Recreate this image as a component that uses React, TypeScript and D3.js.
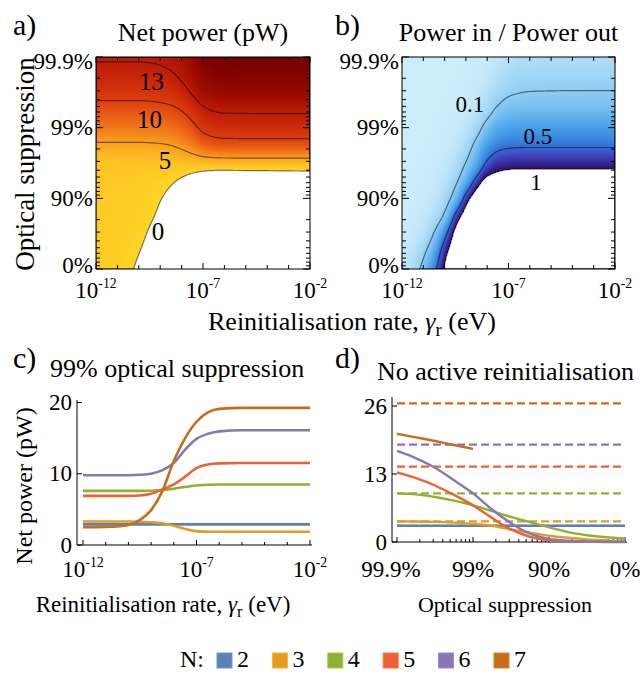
import React, { useMemo } from 'react';
import * as d3 from 'd3';

const FONT = '"Liberation Serif", "Times New Roman", Times, serif';

// ---------- shared grid for panels a & b ----------
// x: log10 reinitialisation rate (eV); y: log10(1 - optical suppression)
const gammaLog = [-12, -11, -10, -9.5, -9, -8.5, -8, -7.5, -7, -6.5, -6, -4, -2];
const leakLog = [-3, -2.75, -2.5, -2.25, -2, -1.75, -1.5, -1.25, -1, -0.75, -0.5, -0.25, 0];

// Net power (pW), N = 5, rows follow leakLog, columns follow gammaLog
const netPowerGrid = [
  [13.3, 13.3, 13.3, 13.35, 13.5, 13.8, 14.6, 15.9, 17.5, 18.2, 18.45, 18.5, 18.5],
  [12.2, 12.2, 12.2, 12.25, 12.4, 12.75, 13.5, 14.85, 16.45, 17.2, 17.45, 17.5, 17.5],
  [10.8, 10.8, 10.8, 10.85, 11.0, 11.3, 12.05, 13.3, 14.8, 15.5, 15.75, 15.8, 15.8],
  [9.0, 9.0, 9.0, 9.05, 9.2, 9.45, 10.1, 11.2, 12.5, 13.15, 13.35, 13.4, 13.4],
  [7.0, 7.0, 7.0, 7.05, 7.2, 7.45, 8.1, 9.25, 10.6, 11.25, 11.45, 11.5, 11.5],
  [4.6, 4.6, 4.6, 4.65, 4.75, 5.0, 5.65, 6.7, 7.95, 8.55, 8.75, 8.8, 8.8],
  [2.4, 2.4, 2.4, 2.4, 2.45, 2.5, 2.6, 2.8, 3.05, 3.15, 3.2, 3.2, 3.2],
  [1.8, 1.6, 1.35, 1.1, 0.75, 0.3, -0.35, -1.5, -2.8, -3.8, -4.3, -4.5, -4.5],
  [1.6, 1.3, 0.95, 0.55, 0.08, -0.5, -1.4, -2.8, -4.5, -6.5, -8.5, -12, -16],
  [1.5, 1.15, 0.65, 0.22, -0.28, -0.9, -1.9, -3.3, -5, -7, -9, -13, -18],
  [1.4, 1.0, 0.35, -0.14, -0.65, -1.3, -2.3, -3.8, -5.5, -7.5, -9.5, -14, -20],
  [1.3, 0.85, 0.05, -0.45, -1.0, -1.7, -2.7, -4.2, -5.8, -8, -10, -15, -20],
  [1.2, 0.7, -0.25, -0.75, -1.3, -2.0, -3.0, -4.5, -6, -8, -10, -15, -20],
];

// log10(Power in / Power out), N = 5
const ratioLogGrid = [
  [-6.3, -5.3, -4.3, -3.8, -3.3, -2.8, -2.3, -1.85, -1.6, -1.45, -1.42, -1.4, -1.4],
  [-5.9, -4.9, -3.9, -3.4, -2.9, -2.4, -1.9, -1.5, -1.3, -1.22, -1.2, -1.19, -1.19],
  [-5.5, -4.5, -3.5, -3.0, -2.5, -2.0, -1.55, -1.22, -1.06, -1.01, -0.99, -0.98, -0.979],
  [-5.1, -4.1, -3.1, -2.6, -2.1, -1.6, -1.2, -0.92, -0.81, -0.78, -0.77, -0.77, -0.77],
  [-4.7, -3.7, -2.7, -2.2, -1.7, -1.22, -0.82, -0.62, -0.55, -0.53, -0.523, -0.523, -0.523],
  [-4.3, -3.3, -2.3, -1.8, -1.3, -0.85, -0.52, -0.38, -0.34, -0.33, -0.328, -0.328, -0.328],
  [-4.0, -3.0, -2.0, -1.45, -0.98, -0.6, -0.26, -0.13, -0.095, -0.086, -0.086, -0.086, -0.086],
  [-3.6, -2.6, -1.6, -1.12, -0.64, -0.2, 0.09, 0.16, 0.19, 0.2, 0.2, 0.2, 0.2],
  [-3.3, -2.3, -1.3, -0.75, -0.17, 0.21, 0.5, 0.7, 0.8, 0.85, 0.85, 0.85, 0.85],
  [-2.93, -1.93, -0.9, -0.24, 0.18, 0.6, 0.9, 1.1, 1.2, 1.25, 1.25, 1.25, 1.25],
  [-2.55, -1.55, -0.41, 0.08, 0.5, 0.9, 1.2, 1.4, 1.5, 1.55, 1.55, 1.55, 1.55],
  [-2.13, -1.13, -0.13, 0.26, 0.7, 1.1, 1.4, 1.6, 1.7, 1.75, 1.75, 1.75, 1.75],
  [-1.83, -0.84, 0.04, 0.5, 1.0, 1.4, 1.7, 1.9, 2.0, 2.05, 2.05, 2.05, 2.05],
];

const netPowerLevels = [0, 5, 10, 13];
const ratioLevels = [0.1, 0.5, 1];

// ---------- panel c: 99% optical suppression ----------
const cGammaLog = [-12, -11, -10.5, -10, -9.5, -9, -8.5, -8, -7.5, -7, -6.5, -6, -5, -4, -3, -2];
const cN2 = [2.9, 2.9, 2.9, 2.9, 2.9, 2.9, 2.9, 2.9, 2.9, 2.9, 2.9, 2.9, 2.9, 2.9, 2.9, 2.9];
const cN3 = [3.3, 3.3, 3.3, 3.3, 3.27, 3.2, 3.05, 2.7, 2.25, 1.95, 1.87, 1.85, 1.85, 1.85, 1.85, 1.85];
const cN4 = [7.6, 7.6, 7.6, 7.6, 7.6, 7.62, 7.7, 7.9, 8.15, 8.35, 8.45, 8.5, 8.5, 8.5, 8.5, 8.5];
const cN5 = [6.9, 6.9, 6.9, 6.9, 6.95, 7.2, 7.8, 8.5, 9.6, 10.8, 11.3, 11.45, 11.5, 11.5, 11.5, 11.5];
const cN6 = [9.8, 9.8, 9.8, 9.8, 9.85, 10.0, 10.5, 11.5, 13.4, 14.9, 15.6, 15.95, 16.1, 16.1, 16.1, 16.1];
const cN7 = [2.5, 2.55, 2.6, 2.8, 3.5, 4.9, 7.6, 11.8, 15.0, 17.3, 18.6, 19.1, 19.25, 19.25, 19.25, 19.25];

// ---------- panel d: no active reinitialisation ----------
const dLeakLog = [-3, -2.75, -2.5, -2.25, -2, -1.75, -1.5, -1.25, -1, -0.75, -0.5, -0.25, 0];
const dN2 = [3.1, 3.1, 3.1, 3.1, 3.1, 3.1, 3.1, 3.1, 3.1, 3.1, 3.1, 3.1, 3.1];
const dN3 = [3.95, 3.93, 3.85, 3.7, 3.5, 3.1, 2.4, 1.8, 1.2, 0.8, 0.5, 0.3, 0.2];
const dN4 = [9.3, 9.1, 8.6, 7.9, 7.0, 5.9, 4.8, 3.8, 2.8, 1.9, 1.3, 0.9, 0.65];
const dN5 = [13.3, 12.2, 10.8, 9.0, 7.0, 4.6, 2.4, 1.0, 0.35, 0.1, 0.03, 0.01, 0];
const dN6 = [17.4, 16.0, 14.2, 11.8, 9.3, 6.2, 3.6, 1.6, 0.6, 0.25, 0.1, 0.06, 0.05];
const dN7 = [20.7, 20.0, 19.3, 18.55, 17.8];
const dLimit = [3.1, 3.95, 9.3, 14.4, 18.6, 26.5];

const Ns = [2, 3, 4, 5, 6, 7];
const seriesColors = ['#5E81B5', '#E19C24', '#8FB032', '#EB6235', '#8778B3', '#C56E1A'];
const suppressionTicks = [
  { v: -3, label: '99.9%' },
  { v: -2, label: '99%' },
  { v: -1, label: '90%' },
  { v: 0, label: '0%' },
];
const gammaMajor = [-12, -7, -2];

// ---------- helpers ----------
function pchip(xs: number[], ys: number[]) {
  const n = xs.length;
  const h: number[] = [];
  const d: number[] = [];
  for (let i = 0; i < n - 1; i++) {
    h.push(xs[i + 1] - xs[i]);
    d.push((ys[i + 1] - ys[i]) / h[i]);
  }
  const m = new Array(n).fill(0);
  m[0] = d[0];
  m[n - 1] = d[n - 2];
  for (let i = 1; i < n - 1; i++) {
    if (d[i - 1] * d[i] <= 0) m[i] = 0;
    else {
      const w1 = 2 * h[i] + h[i - 1];
      const w2 = h[i] + 2 * h[i - 1];
      m[i] = (w1 + w2) / (w1 / d[i - 1] + w2 / d[i]);
    }
  }
  return (x: number) => {
    let i = 0;
    if (x <= xs[0]) i = 0;
    else if (x >= xs[n - 1]) i = n - 2;
    else while (x > xs[i + 1]) i++;
    const t = Math.max(0, Math.min(1, (x - xs[i]) / h[i]));
    const t2 = t * t, t3 = t2 * t;
    return (2 * t3 - 3 * t2 + 1) * ys[i] + (t3 - 2 * t2 + t) * h[i] * m[i] +
      (-2 * t3 + 3 * t2) * ys[i + 1] + (t3 - t2) * h[i] * m[i + 1];
  };
}

function sampleField(grid: number[][], nx: number, ny: number) {
  const rowInterps = grid.map((row) => pchip(gammaLog, row));
  const values: number[] = new Array(nx * ny);
  for (let i = 0; i < nx; i++) {
    const xl = -12 + ((i + 0.5) / nx) * 10;
    const col = rowInterps.map((f) => f(xl));
    const fy = pchip(leakLog, col);
    for (let j = 0; j < ny; j++) {
      const yl = -3 + ((j + 0.5) / ny) * 3;
      values[j * nx + i] = fy(yl);
    }
  }
  return values;
}

function fieldImage(values: number[], nx: number, ny: number, colorOf: (v: number) => string | null) {
  if (typeof document === 'undefined') return '';
  const canvas = document.createElement('canvas');
  canvas.width = nx;
  canvas.height = ny;
  const ctx = canvas.getContext('2d');
  if (!ctx) return '';
  const img = ctx.createImageData(nx, ny);
  for (let k = 0; k < nx * ny; k++) {
    const c = colorOf(values[k]);
    let r = 255, g = 255, b = 255;
    if (c) {
      const rgb = d3.rgb(c);
      r = rgb.r; g = rgb.g; b = rgb.b;
    }
    img.data[k * 4] = r;
    img.data[k * 4 + 1] = g;
    img.data[k * 4 + 2] = b;
    img.data[k * 4 + 3] = 255;
  }
  ctx.putImageData(img, 0, 0);
  return canvas.toDataURL();
}

function contourPaths(values: number[], nx: number, ny: number, thresholds: number[],
  xs: d3.ScaleLinear<number, number>, ys: d3.ScaleLinear<number, number>) {
  const gen = d3.contours().size([nx, ny]).thresholds(thresholds);
  const cs = gen(values);
  const proj = d3.geoTransform({
    point(x: number, y: number) {
      // @ts-ignore
      this.stream.point(xs(-12 + (x / nx) * 10), ys(-3 + (y / ny) * 3));
    },
  });
  const path = d3.geoPath(proj as any);
  return cs.map((c) => ({ value: c.value, d: path(c as any) || '' }));
}

const sunset = d3.scaleLinear<string>()
  .domain([0, 2.5, 5, 7.5, 10, 12.5, 15, 17.5, 19])
  .range(['#FFD526', '#FDC223', '#F8A01E', '#EF6F18', '#DD3E0F', '#C22107', '#A10C01', '#820300', '#700000'])
  .clamp(true);

const blues = d3.scaleLinear<string>()
  .domain([0, 0.04, 0.1, 0.2, 0.35, 0.5, 0.65, 0.8, 0.95, 1])
  .range(['#CCEBFB', '#AEDCF7', '#8ECCF3', '#62B3EE', '#3E93E3', '#3569D3', '#3E42B9', '#3A2898', '#2E1670', '#271060'])
  .clamp(true);

function logMinor(d0: number, d1: number) {
  const out: number[] = [];
  for (let d = d0; d < d1; d++) for (let k = 2; k <= 9; k++) out.push(d + Math.log10(k));
  return out;
}

function Pow10({ x, y, e, size = 23 }: { x: number; y: number; e: number; size?: number }) {
  return (
    <text x={x} y={y} textAnchor="middle" fontSize={size}>
      10<tspan fontSize={size * 0.6} dy={-size * 0.42}>{String(e)}</tspan>
    </text>
  );
}

function GammaLabel({ x, y, size }: { x: number; y: number; size: number }) {
  return (
    <text x={x} y={y} textAnchor="middle" fontSize={size}>
      Reinitialisation rate, <tspan fontStyle="italic">γ</tspan>
      <tspan fontSize={size * 0.72} dy={size * 0.22}>r</tspan>
      <tspan dy={-size * 0.22}> (eV)</tspan>
    </text>
  );
}

// nudge for end tick labels on the suppression axes
const endNudge = (v: number) => (v === -3 ? 4 : v === 0 ? -4 : 0);

function FramePanel({ xs, ys, id, img, contours, lineColor, labels, labelSize }: any) {
  const [x0, x1] = xs.range();
  const [y0, y1] = ys.range();
  const w = x1 - x0, h = y1 - y0;
  const xMinor = d3.range(-11, -2).filter((v) => !gammaMajor.includes(v));
  const yMajor = suppressionTicks.map((t) => t.v);
  const yMinor = logMinor(-3, 0);
  return (
    <g>
      <defs>
        <clipPath id={id}>
          <rect x={x0} y={y0} width={w} height={h} />
        </clipPath>
      </defs>
      <rect x={x0} y={y0} width={w} height={h} fill="#fff" />
      {img && <image href={img} x={x0} y={y0} width={w} height={h} preserveAspectRatio="none" />}
      <g clipPath={`url(#${id})`}>
        {contours.map((c: any, i: number) => (
          <path key={i} d={c.d} fill="none" stroke={lineColor} strokeOpacity={0.5} strokeWidth={1.2} />
        ))}
      </g>
      {labels.map((l: any, i: number) => (
        <text key={i} x={xs(l.x)} y={ys(l.y)} fontSize={labelSize} textAnchor="middle" dominantBaseline="central">
          {l.text}
        </text>
      ))}
      <rect x={x0} y={y0} width={w} height={h} fill="none" stroke="#000" strokeWidth={1} />
      {gammaMajor.map((v) => (
        <g key={'xm' + v}>
          <line x1={xs(v)} x2={xs(v)} y1={y1} y2={y1 - 6} stroke="#000" />
          <line x1={xs(v)} x2={xs(v)} y1={y0} y2={y0 + 6} stroke="#000" />
        </g>
      ))}
      {xMinor.map((v) => (
        <g key={'xn' + v}>
          <line x1={xs(v)} x2={xs(v)} y1={y1} y2={y1 - 4} stroke="#000" />
          <line x1={xs(v)} x2={xs(v)} y1={y0} y2={y0 + 4} stroke="#000" />
        </g>
      ))}
      {yMajor.map((v) => (
        <g key={'ym' + v}>
          <line x1={x0} x2={x0 + 7} y1={ys(v)} y2={ys(v)} stroke="#000" />
          <line x1={x1} x2={x1 - 7} y1={ys(v)} y2={ys(v)} stroke="#000" />
        </g>
      ))}
      {yMinor.map((v, i) => (
        <g key={'yn' + i}>
          <line x1={x0} x2={x0 + 4} y1={ys(v)} y2={ys(v)} stroke="#000" />
          <line x1={x1} x2={x1 - 4} y1={ys(v)} y2={ys(v)} stroke="#000" />
        </g>
      ))}
      {gammaMajor.map((v) => (
        <Pow10 key={'xl' + v} x={xs(v)} y={298} e={v} />
      ))}
      {suppressionTicks.map((t) => (
        <text key={'yl' + t.v} x={x0 - 3} y={ys(t.v) + endNudge(t.v)} textAnchor="end"
          dominantBaseline="central" fontSize={23}>
          {t.label}
        </text>
      ))}
    </g>
  );
}

export default function App() {
  const xA = d3.scaleLinear().domain([-12, -2]).range([96, 310]);
  const yA = d3.scaleLinear().domain([-3, 0]).range([57, 269]);
  const xB = d3.scaleLinear().domain([-12, -2]).range([402, 615]);
  const yB = yA;
  const xC = d3.scaleLinear().domain([-12, -2]).range([83, 310]);
  const yC = d3.scaleLinear().domain([0, 20]).range([545, 402.5]);
  const xD = d3.scaleLinear().domain([-3, 0]).range([397, 625]);
  const yD = d3.scaleLinear().domain([0, 26]).range([542, 406]);

  const nxA = 214, nyA = 212, nxB = 213;

  const a = useMemo(() => {
    const vals = sampleField(netPowerGrid, nxA, nyA);
    const img = fieldImage(vals, nxA, nyA, (v) => (v < 0 ? null : sunset(v)));
    const cont = contourPaths(vals, nxA, nyA, netPowerLevels, xA, yA);
    return { img, cont };
  }, []);

  const b = useMemo(() => {
    const vals = sampleField(ratioLogGrid, nxB, nyA);
    const img = fieldImage(vals, nxB, nyA, (v) => (v > 0 ? null : blues(Math.pow(10, v))));
    const cont = contourPaths(vals, nxB, nyA, ratioLevels.map((r) => Math.log10(r)), xB, yB);
    return { img, cont };
  }, []);

  const labelsA = [
    { text: '13', x: -9.41, y: -2.66 },
    { text: '10', x: -9.5, y: -2.12 },
    { text: '5', x: -8.78, y: -1.54 },
    { text: '0', x: -9.1, y: -0.53 },
  ];
  const labelsB = [
    { text: '0.1', x: -8.81, y: -2.33 },
    { text: '0.5', x: -5.62, y: -1.88 },
    { text: '1', x: -5.71, y: -1.22 },
  ];

  const cSeries = [cN2, cN3, cN4, cN5, cN6, cN7];
  const dSeries = [dN2, dN3, dN4, dN5, dN6, dN7];
  const lineC = d3.line<number>().x((_, i) => xC(cGammaLog[i])).y((v) => yC(v)).curve(d3.curveMonotoneX);
  const lineD = d3.line<number>().x((_, i) => xD(dLeakLog[i])).y((v) => yD(v)).curve(d3.curveMonotoneX);

  const cMinor = d3.range(-11, -2).filter((v) => !gammaMajor.includes(v));
  const dMinor = logMinor(-3, 0);

  return (
    <svg width={644} height={673} style={{ position: 'absolute', left: 0, top: 0, background: '#fff' }}
      fontFamily={FONT} fill="#000">
      <rect x={0} y={0} width={644} height={673} fill="#fff" />
      {/* Panel a */}
      <text x={13} y={35} fontSize={30}>a)</text>
      <text x={203} y={41} fontSize={26} textAnchor="middle">Net power (pW)</text>
      <FramePanel xs={xA} ys={yA} id="clipA" img={a.img} contours={a.cont} lineColor="#000"
        labels={labelsA} labelSize={25} />
      <text transform="translate(34,164) rotate(-90)" textAnchor="middle" fontSize={27}>Optical suppression</text>

      {/* Panel b */}
      <text x={335} y={35} fontSize={30}>b)</text>
      <text x={508.5} y={41} fontSize={26} textAnchor="middle">Power in / Power out</text>
      <FramePanel xs={xB} ys={yB} id="clipB" img={b.img} contours={b.cont} lineColor="#000"
        labels={labelsB} labelSize={23} />

      <GammaLabel x={352} y={330} size={26} />

      {/* Panel c */}
      <text x={13} y={368} fontSize={30}>c)</text>
      <text x={50} y={377} fontSize={26}>99% optical suppression</text>
      <line x1={77} x2={77} y1={400} y2={545} stroke="#000" />
      <line x1={77} x2={312} y1={545} y2={545} stroke="#000" />
      {[0, 10, 20].map((v) => (
        <g key={'cy' + v}>
          <line x1={77} x2={82} y1={yC(v)} y2={yC(v)} stroke="#000" />
          <text x={72} y={yC(v)} textAnchor="end" dominantBaseline="central" fontSize={23}>{v}</text>
        </g>
      ))}
      {gammaMajor.map((v) => (
        <g key={'cx' + v}>
          <line x1={xC(v)} x2={xC(v)} y1={545} y2={540} stroke="#000" />
          <Pow10 x={xC(v)} y={577} e={v} />
        </g>
      ))}
      {cMinor.map((v) => (
        <line key={'cxm' + v} x1={xC(v)} x2={xC(v)} y1={545} y2={542} stroke="#000" />
      ))}
      {cSeries.map((s, i) => (
        <path key={'c' + i} d={lineC(s) || ''} fill="none" stroke={seriesColors[i]} strokeWidth={2.6} />
      ))}
      <text transform="translate(32,486) rotate(-90)" textAnchor="middle" fontSize={24}>Net power (pW)</text>
      <GammaLabel x={163} y={612} size={23} />

      {/* Panel d */}
      <text x={335} y={368} fontSize={30}>d)</text>
      <text x={505.5} y={380} fontSize={26} textAnchor="middle">No active reinitialisation</text>
      <line x1={392} x2={392} y1={397} y2={542} stroke="#000" />
      <line x1={392} x2={627} y1={542} y2={542} stroke="#000" />
      {[0, 13, 26].map((v) => (
        <g key={'dy' + v}>
          <line x1={392} x2={397} y1={yD(v)} y2={yD(v)} stroke="#000" />
          <text x={387} y={yD(v)} textAnchor="end" dominantBaseline="central" fontSize={23}>{v}</text>
        </g>
      ))}
      {suppressionTicks.map((t) => (
        <g key={'dx' + t.v}>
          <line x1={xD(t.v)} x2={xD(t.v)} y1={542} y2={537} stroke="#000" />
          <text x={xD(t.v) - (t.v === -3 ? 6 : 0)} y={577} textAnchor="middle" fontSize={23}>{t.label}</text>
        </g>
      ))}
      {dMinor.map((v, i) => (
        <line key={'dxm' + i} x1={xD(v)} x2={xD(v)} y1={542} y2={539} stroke="#000" />
      ))}
      {dLimit.map((v, i) => (
        <line key={'dl' + i} x1={xD(-3)} x2={xD(0)} y1={yD(v)} y2={yD(v)} stroke={seriesColors[i]}
          strokeWidth={2.2} strokeDasharray="8,4" />
      ))}
      {dSeries.map((s, i) => (
        <path key={'d' + i} d={lineD(s) || ''} fill="none" stroke={seriesColors[i]} strokeWidth={2.4} />
      ))}
      <text x={505} y={612} textAnchor="middle" fontSize={22}>Optical suppression</text>

      {/* Legend */}
      <text x={180} y={667} fontSize={24}>N:</text>
      {Ns.map((n, i) => (
        <g key={'lg' + n}>
          <rect x={217 + i * 55.4} y={653} width={15} height={15} fill={seriesColors[i]}
            stroke={d3.color(seriesColors[i])!.brighter(0.4).toString()} strokeWidth={1} />
          <text x={237 + i * 55.4} y={667} fontSize={24}>{n}</text>
        </g>
      ))}
    </svg>
  );
}
